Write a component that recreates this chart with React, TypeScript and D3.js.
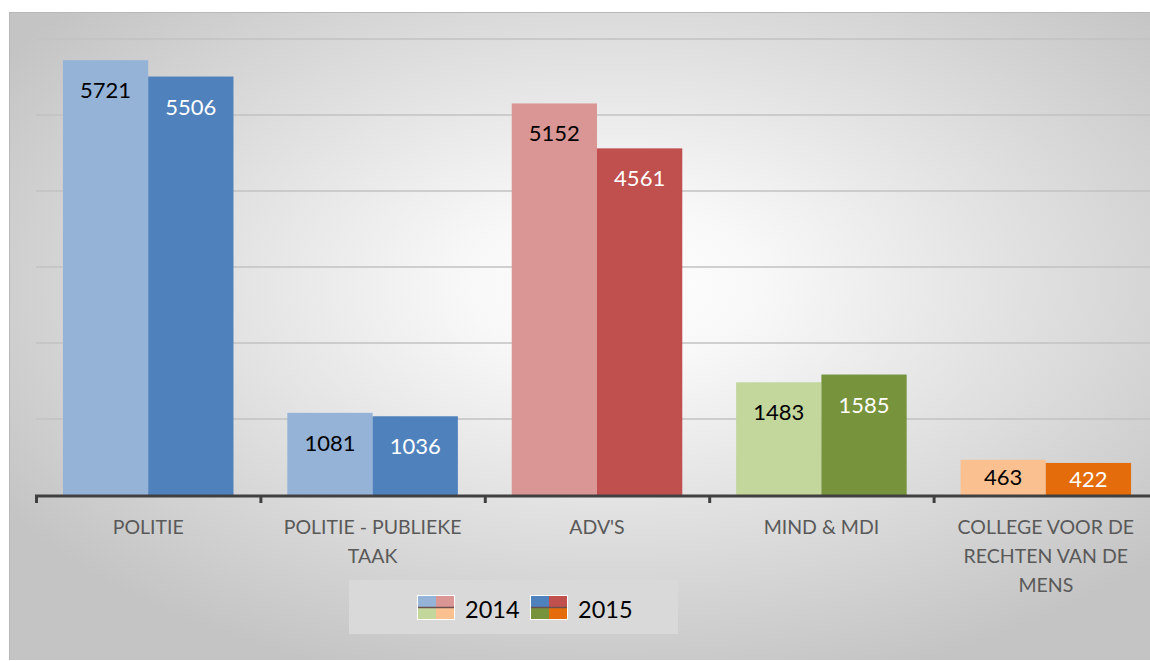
import React from "react";
import * as d3 from "d3";

const categories = [
  ["POLITIE"],
  ["POLITIE - PUBLIEKE", "TAAK"],
  ["ADV'S"],
  ["MIND & MDI"],
  ["COLLEGE VOOR DE", "RECHTEN VAN DE", "MENS"],
];
const values2014 = [5721, 1081, 5152, 1483, 463];
const values2015 = [5506, 1036, 4561, 1585, 422];
const colors2014 = ["#95b3d7", "#95b3d7", "#d99694", "#c3d69b", "#fac090"];
const colors2015 = ["#4f81bd", "#4f81bd", "#c0504d", "#77933c", "#e46c0a"];
const yTicks = [0, 1000, 2000, 3000, 4000, 5000, 6000];
const seriesNames = ["2014", "2015"];

const W = 1150;
const H = 661;
const FONT = "Lato, 'Open Sans', sans-serif";

export default function App() {
  const idx = categories.map((_, i) => i);
  const x = d3.scaleBand<number>().domain(idx).range([36, 1158]).paddingInner(0.24).paddingOuter(0.12);
  const y = d3.scaleLinear().domain([0, 6000]).range([495, 39]);
  const bw = x.bandwidth() / 2;
  const step = x.step();
  const bandStart = (i: number) => 36 + step * i;
  const labelY = (v: number) => Math.min(y(v) + 30, (y(v) + y(0)) / 2) + 8;

  return (
    <svg width={W} height={H} style={{ position: "absolute", left: 0, top: 0, display: "block" }}>
      <defs>
        <radialGradient id="bg" cx="0.53" cy="0.42" r="0.64">
          <stop offset="0" stopColor="#ffffff" />
          <stop offset="0.2" stopColor="#f8f8f8" />
          <stop offset="1" stopColor="#c4c4c4" />
        </radialGradient>
      </defs>
      <rect x={0} y={0} width={W} height={H} fill="#ffffff" />
      <rect x={9} y={12} width={W - 9} height={648} fill="url(#bg)" />
      <line x1={9} x2={W} y1={12.5} y2={12.5} stroke="#b8b8b8" strokeWidth={1} />
      <line x1={9.5} x2={9.5} y1={12} y2={660} stroke="#b8b8b8" strokeWidth={1} />

      {yTicks.filter((t) => t > 0).map((t) => (
        <line key={t} x1={36} x2={W} y1={y(t)} y2={y(t)} stroke="#c2c2c2" strokeWidth={1.5} />
      ))}

      {idx.map((i) => {
        const x0 = x(i)!;
        return (
          <g key={i}>
            <rect x={x0} y={y(values2014[i])} width={bw} height={y(0) - y(values2014[i])} fill={colors2014[i]} />
            <rect x={x0 + bw} y={y(values2015[i])} width={bw} height={y(0) - y(values2015[i])} fill={colors2015[i]} />
            <text x={x0 + bw / 2} y={labelY(values2014[i])} textAnchor="middle" fontFamily={FONT} fontSize={22} fill="#000">
              {values2014[i]}
            </text>
            <text x={x0 + bw * 1.5} y={labelY(values2015[i])} textAnchor="middle" fontFamily={FONT} fontSize={22} fill="#fff">
              {values2015[i]}
            </text>
            {categories[i].map((line, k) => (
              <text key={k} x={x0 + bw} y={534 + k * 29} textAnchor="middle" fontFamily={FONT} fontSize={19.5} fill="#595959">
                {line}
              </text>
            ))}
          </g>
        );
      })}

      <line x1={35} x2={W} y1={496} y2={496} stroke="#404040" strokeWidth={3} />
      {d3.range(categories.length + 1).map((i) => (
        <line key={i} x1={bandStart(i) + 0.5} x2={bandStart(i) + 0.5} y1={496} y2={503} stroke="#404040" strokeWidth={3} />
      ))}

      <rect x={349} y={580} width={329} height={54} fill="#d9d9d9" />
      {[0, 1].map((s) => {
        const sx = s === 0 ? 418 : 531;
        const cols = s === 0 ? ["#95b3d7", "#d99694", "#c3d69b", "#fac090"] : ["#4f81bd", "#c0504d", "#77933c", "#e46c0a"];
        return (
          <g key={s}>
            <rect x={sx - 1} y={595} width={38} height={25} fill="#ffffff" />
            <rect x={sx} y={596} width={18} height={11} fill={cols[0]} />
            <rect x={sx + 18} y={596} width={18} height={11} fill={cols[1]} />
            <rect x={sx} y={608} width={18} height={11} fill={cols[2]} />
            <rect x={sx + 18} y={608} width={18} height={11} fill={cols[3]} />
            <line x1={sx} x2={sx + 36} y1={607.5} y2={607.5} stroke="#6b5050" strokeWidth={1.5} />
            <text x={sx + 47} y={618} fontFamily={FONT} fontSize={23.5} fill="#000">
              {seriesNames[s]}
            </text>
          </g>
        );
      })}
    </svg>
  );
}
